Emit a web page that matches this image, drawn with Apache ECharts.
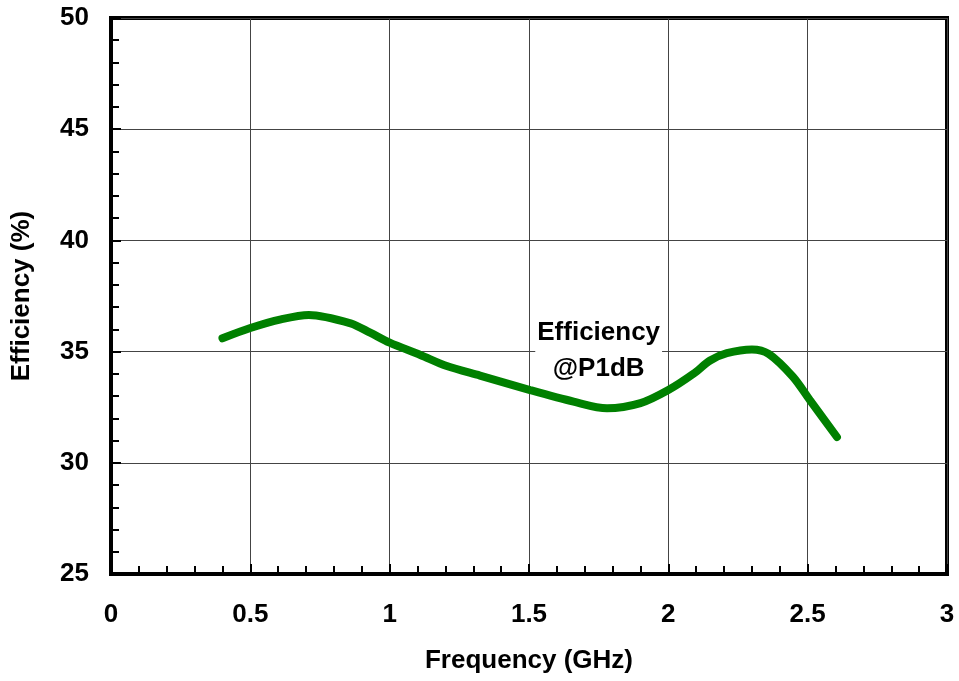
<!DOCTYPE html>
<html><head><meta charset="utf-8">
<script src="https://cdn.jsdelivr.net/npm/echarts@6/dist/echarts.min.js"></script>
<style>html,body{margin:0;padding:0;background:#fff}#c{width:959px;height:681px}</style>
</head><body><div id="c"></div>
<script>
var freq = [0.40, 0.50, 0.61, 0.71, 0.86, 0.93, 1.00, 1.11, 1.205, 1.324, 1.504, 1.66, 1.78, 1.90, 2.00, 2.09, 2.15, 2.21, 2.30, 2.36, 2.447, 2.508, 2.605];
var eff  = [35.6, 36.06, 36.45, 36.65, 36.27, 35.85, 35.4, 34.85, 34.35, 33.92, 33.27, 32.75, 32.45, 32.68, 33.27, 34.0, 34.6, 34.93, 35.1, 34.9, 33.87, 32.82, 31.16];
var xTicks = [0, 0.5, 1, 1.5, 2, 2.5, 3];
var yTicks = [25, 30, 35, 40, 45, 50];
var label = 'Efficiency\n@P1dB';
var labelAt = [1.75, 35.05];

var chart = echarts.init(document.getElementById('c'));
var font = 'Liberation Sans, Arial, sans-serif';
chart.setOption({
  animation: false,
  grid: {left: 111, right: 12, top: 18, bottom: 107, outerBoundsMode: 'none', containLabel: false,
    show: true, borderColor: '#000', borderWidth: 4, backgroundColor: 'transparent'},
  xAxis: {
    type: 'value', min: xTicks[0], max: xTicks[xTicks.length-1], interval: 0.5,
    name: 'Frequency (GHz)', nameLocation: 'middle', nameGap: 74,
    nameTextStyle: {fontFamily: font, fontWeight: 'bold', fontSize: 26, color: '#000'},
    axisLine: {lineStyle: {color: '#000', width: 4}},
    axisTick: {show: true, inside: true, length: 10, lineStyle: {color: '#000', width: 2}},
    minorTick: {show: true, splitNumber: 5, length: 8, lineStyle: {color: '#000', width: 2}},
    axisLabel: {fontFamily: font, fontWeight: 'bold', fontSize: 26, color: '#000', margin: 28},
    splitLine: {show: true, lineStyle: {color: '#444', width: 1}}
  },
  yAxis: {
    type: 'value', min: yTicks[0], max: yTicks[yTicks.length-1], interval: 5,
    name: 'Efficiency (%)', nameLocation: 'middle', nameGap: 76,
    nameTextStyle: {fontFamily: font, fontWeight: 'bold', fontSize: 26, color: '#000'},
    axisLine: {lineStyle: {color: '#000', width: 4}},
    axisTick: {show: true, inside: true, length: 10, lineStyle: {color: '#000', width: 2}},
    minorTick: {show: true, splitNumber: 5, length: 8, lineStyle: {color: '#000', width: 2}},
    axisLabel: {fontFamily: font, fontWeight: 'bold', fontSize: 26, color: '#000', margin: 22},
    splitLine: {show: true, lineStyle: {color: '#444', width: 1}}
  },
  series: [{
    type: 'line', data: freq.map(function(f, i){ return [f, eff[i]]; }),
    smooth: 0.3, showSymbol: false, symbol: 'none',
    lineStyle: {color: '#008000', width: 8, cap: 'round'}
  }]
});
var p = chart.convertToPixel({gridIndex: 0}, labelAt);
chart.setOption({graphic: [{
  type: 'text', x: p[0], y: p[1], z: 100,
  style: {text: label, font: 'bold 26px ' + font, fill: '#000', align: 'center', verticalAlign: 'middle',
    lineHeight: 36, backgroundColor: '#fff', padding: [0, 2]}
}]});
</script></body></html>
